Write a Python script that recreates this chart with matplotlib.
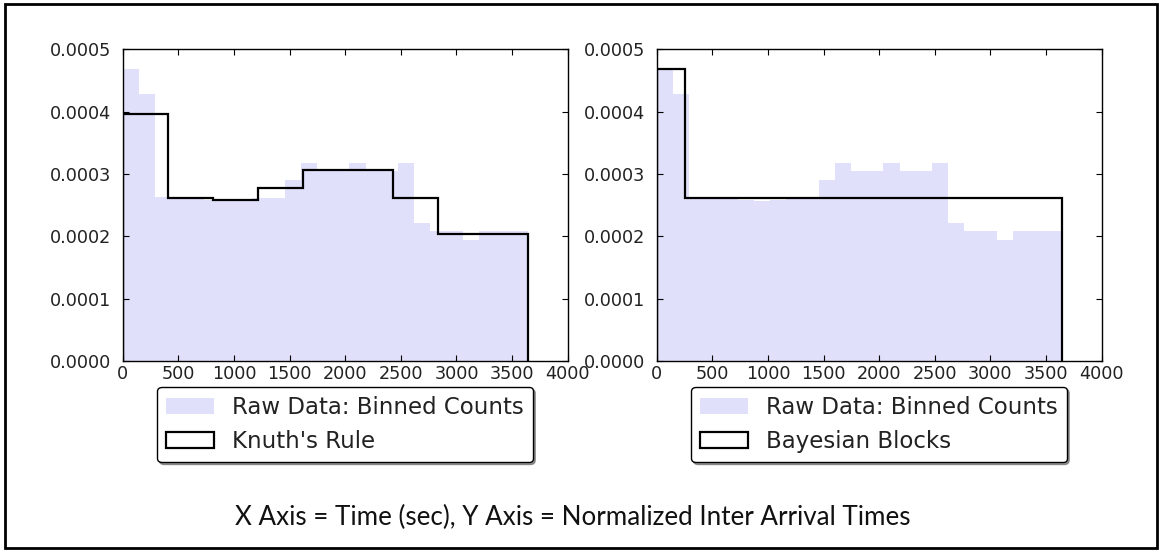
import matplotlib
matplotlib.use("Agg")
import matplotlib.pyplot as plt
from matplotlib.patches import Rectangle
from matplotlib.ticker import FormatStrFormatter, MultipleLocator

# raw binned counts (25 equal bins over 0..3640 s)
raw_edges = [0, 146, 291, 437, 582, 728, 874, 1019, 1165, 1310, 1456, 1602, 1747,
             1893, 2038, 2184, 2330, 2475, 2621, 2766, 2912, 3058, 3203, 3349, 3494, 3640]
raw_values = [0.000468, 0.000428, 0.000263, 0.000262, 0.000262, 0.000258, 0.000257,
              0.000259, 0.000262, 0.000262, 0.000290, 0.000318, 0.000304, 0.000304,
              0.000318, 0.000304, 0.000304, 0.000318, 0.000222, 0.000209, 0.000209,
              0.000194, 0.000209, 0.000209, 0.000209]

knuth_edges = [0, 404, 809, 1213, 1618, 2022, 2427, 2831, 3236, 3640]
knuth_values = [0.000397, 0.000262, 0.000258, 0.000277, 0.000307, 0.000307,
                0.000262, 0.000203, 0.000203]

bayes_edges = [0, 258, 3640]
bayes_values = [0.000468, 0.000261]

x_ticks = [0, 500, 1000, 1500, 2000, 2500, 3000, 3500, 4000]
caption = "X Axis = Time (sec), Y Axis = Normalized Inter Arrival Times"

plt.rcParams.update({
    "font.family": "DejaVu Sans",
    "xtick.direction": "in",
    "ytick.direction": "in",
    "xtick.top": True,
    "ytick.right": True,
    "xtick.major.size": 4,
    "ytick.major.size": 4,
    "xtick.major.pad": 3,
    "ytick.major.pad": 8,
    "xtick.labelsize": 12.7,
    "ytick.labelsize": 12.7,
    "axes.linewidth": 1.0,
})

fill_color = "#e0e0fa"

fig = plt.figure(figsize=(11.6, 5.52), dpi=100)

panels = [
    (0.1058, knuth_edges, knuth_values, "Knuth's Rule"),
    (0.5661, bayes_edges, bayes_values, "Bayesian Blocks"),
]

for left, edges, values, label in panels:
    ax = fig.add_axes([left, 0.346, 0.3836, 0.5647])
    ax.hist(raw_edges[:-1], bins=raw_edges, weights=raw_values,
            histtype="stepfilled", color=fill_color, edgecolor="none",
            label="Raw Data: Binned Counts")
    ax.hist(edges[:-1], bins=edges, weights=values, histtype="step",
            color="black", linewidth=1.6, label=label)
    ax.set_xlim(0, 4000)
    ax.set_ylim(0, 0.0005)
    ax.set_xticks(x_ticks)
    ax.yaxis.set_major_locator(MultipleLocator(0.0001))
    ax.yaxis.set_major_formatter(FormatStrFormatter("%.4f"))
    for lbl in ax.get_xticklabels() + ax.get_yticklabels():
        lbl.set_color("#222222")
    leg = ax.legend(loc="upper center", bbox_to_anchor=(0.5, -0.083),
                    borderaxespad=0, fontsize=16.5, fancybox=True,
                    shadow={"ox": 1.5, "oy": -1.5, "alpha": 0.55},
                    framealpha=1, edgecolor="black", borderpad=0.4,
                    labelspacing=0.49, handlelength=2.07, handletextpad=0.8)
    for t in leg.get_texts():
        t.set_color("#222222")

fig.text(0.4935, 0.062, caption, ha="center", va="center", fontsize=18.7,
         family=["Lato", "DejaVu Sans"], color="#111111")

# outer frame around the whole picture
fig.patches.append(Rectangle((5 / 1160, 4 / 552), 1152 / 1160, 544 / 552,
                             transform=fig.transFigure, fill=False,
                             edgecolor="black", linewidth=2))

fig.savefig("out.png", dpi=100)
